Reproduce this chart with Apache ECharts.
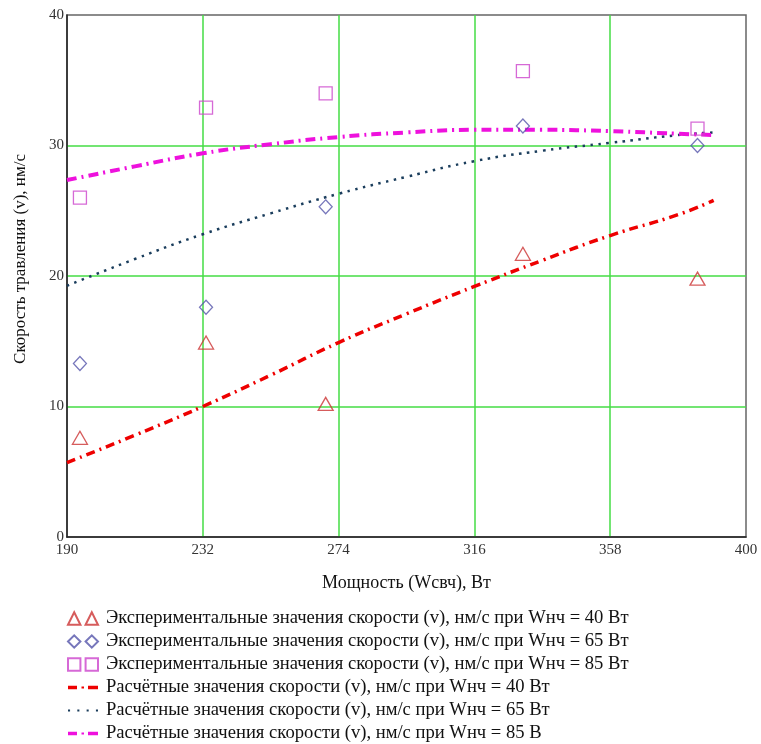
<!DOCTYPE html>
<html>
<head>
<meta charset="utf-8">
<script src="https://cdn.jsdelivr.net/npm/echarts@6/dist/echarts.min.js"></script>
<style>html,body{margin:0;padding:0;background:#fff}#c{width:761px;height:744px}</style>
</head>
<body>
<div id="c"></div>
<script>
// Experimental power values (W) and measured etch rates
var expPower = [194, 233, 270, 331, 385];
var exp40 = [7.6, 14.9, 10.2, 21.7, 19.8];
var exp65 = [13.3, 17.6, 25.3, 31.5, 30.0];
var exp85 = [26.0, 32.9, 34.0, 35.7, 31.3];
// Calculated curves
var calcPower = [190, 211, 232, 253, 274, 295, 316, 337, 358, 379, 390];
var calc40 = [5.7, 7.8, 10.0, 12.4, 14.9, 17.1, 19.2, 21.2, 23.1, 24.7, 25.8];
var calc65 = [19.25, 21.3, 23.2, 24.8, 26.3, 27.6, 28.8, 29.6, 30.2, 30.8, 31.0];
var calc85 = [27.35, 28.4, 29.4, 30.1, 30.65, 31.0, 31.2, 31.2, 31.1, 30.9, 30.8];
var xTicks = [190, 232, 274, 316, 358, 400];
var yTicks = [0, 10, 20, 30, 40];
var names = [
  'Экспериментальные значения скорости (v), нм/с при Wнч = 40 Вт',
  'Экспериментальные значения скорости (v), нм/с при Wнч = 65 Вт',
  'Экспериментальные значения скорости (v), нм/с при Wнч = 85 Вт',
  'Расчётные значения скорости (v), нм/с при Wнч = 40 Вт',
  'Расчётные значения скорости (v), нм/с при Wнч = 65 Вт',
  'Расчётные значения скорости (v), нм/с при Wнч = 85 В'
];
function pairs(xs, ys){ return xs.map(function(x,i){ return [x, ys[i]]; }); }
var FONT = 'Liberation Serif';
var chart = echarts.init(document.getElementById('c'));
var triIcon = 'path://M0,12L6,0L12,12Z M17,12L23,0L29,12Z';
var diaIcon = 'path://M0,6L6,0L12,6L6,12Z M17,6L23,0L29,6L23,12Z';
var sqIcon = 'path://M0,0L12,0L12,12L0,12Z M17,0L29,0L29,12L17,12Z';
var dashDotIcon = 'path://M0,0h9v3.5h-9z M13.5,0.75h2.5v2h-2.5z M20,0h10v3.5h-10z';
var dotIcon = 'path://M0,0h2v2h-2z M9,0h2v2h-2z M18,0h2v2h-2z M27,0h2v2h-2z';
chart.setOption({
  animation: false,
  backgroundColor: '#fff',
  grid: {left: 67, right: 15, top: 15, bottom: 207, show: true, borderColor: '#666', borderWidth: 1.5, backgroundColor: 'transparent'},
  xAxis: {
    type: 'value', min: 190, max: 400, interval: 42,
    name: 'Мощность (Wсвч), Вт', nameLocation: 'middle', nameGap: 37,
    nameTextStyle: {fontFamily: FONT, fontSize: 18, color: '#111'},
    axisLine: {show: true, onZero: false, lineStyle: {color: '#222', width: 1.5}},
    axisTick: {show: false},
    axisLabel: {fontFamily: FONT, fontSize: 15, color: '#333', margin: 6,
      formatter: function(v){ return xTicks.indexOf(v) >= 0 ? String(v) : ''; }},
    splitLine: {show: true, showMinLine: false, showMaxLine: false, lineStyle: {color: '#44dd44', width: 1.5}}
  },
  yAxis: {
    type: 'value', min: 0, max: 40, interval: 10,
    name: 'Скорость травления (v), нм/с', nameLocation: 'middle', nameGap: 38,
    nameTextStyle: {fontFamily: FONT, fontSize: 17, color: '#111', padding: [0, 0, 0, 34]},
    axisLine: {show: true, onZero: false, lineStyle: {color: '#222', width: 1.5}},
    axisTick: {show: false},
    axisLabel: {fontFamily: FONT, fontSize: 15, color: '#333', margin: 3,
      formatter: function(v){ return yTicks.indexOf(v) >= 0 ? String(v) : ''; }},
    splitLine: {show: true, showMinLine: false, showMaxLine: false, lineStyle: {color: '#44dd44', width: 1.5}}
  },
  legend: {
    orient: 'vertical', left: 67, top: 609, padding: 0, itemWidth: 30, itemHeight: 13, itemGap: 4,
    symbolKeepAspect: true,
    textStyle: {fontFamily: FONT, fontSize: 18.6, lineHeight: 18, color: '#111', padding: [0, 0, 0, 3]},
    data: [
      {name: names[0], icon: triIcon},
      {name: names[1], icon: diaIcon},
      {name: names[2], icon: sqIcon},
      {name: names[3], icon: dashDotIcon},
      {name: names[4], icon: dotIcon},
      {name: names[5], icon: dashDotIcon}
    ]
  },
  series: [
    {name: names[3], type: 'line', data: pairs(calcPower, calc40), smooth: true, symbol: 'none', z: 3,
      lineStyle: {color: '#ee0000', width: 3.5, type: [9, 5, 2, 5]}, itemStyle: {color: '#ee0000', borderWidth: 0}},
    {name: names[4], type: 'line', data: pairs(calcPower, calc65), smooth: true, symbol: 'none', z: 3,
      lineStyle: {color: '#1a3d5c', width: 2.5, type: [2.5, 5.5]}, itemStyle: {color: '#1a3d5c', borderWidth: 0}},
    {name: names[5], type: 'line', data: pairs(calcPower, calc85), smooth: true, symbol: 'none', z: 3,
      lineStyle: {color: '#ee11dd', width: 4, type: [10, 5, 2, 5]}, itemStyle: {color: '#ee11dd', borderWidth: 0}},
    {name: names[0], type: 'scatter', data: pairs(expPower, exp40), symbol: 'triangle', symbolSize: [15, 13], z: 4,
      itemStyle: {color: 'rgba(255,255,255,0)', borderColor: '#cc3333', borderWidth: 1.3}},
    {name: names[1], type: 'scatter', data: pairs(expPower, exp65), symbol: 'diamond', symbolSize: [13, 14], z: 4,
      itemStyle: {color: 'rgba(255,255,255,0)', borderColor: '#5555aa', borderWidth: 1.3}},
    {name: names[2], type: 'scatter', data: pairs(expPower, exp85), symbol: 'rect', symbolSize: 13, z: 4,
      itemStyle: {color: 'rgba(255,255,255,0)', borderColor: '#cc44cc', borderWidth: 1.3}}
  ]
});
</script>
</body>
</html>
